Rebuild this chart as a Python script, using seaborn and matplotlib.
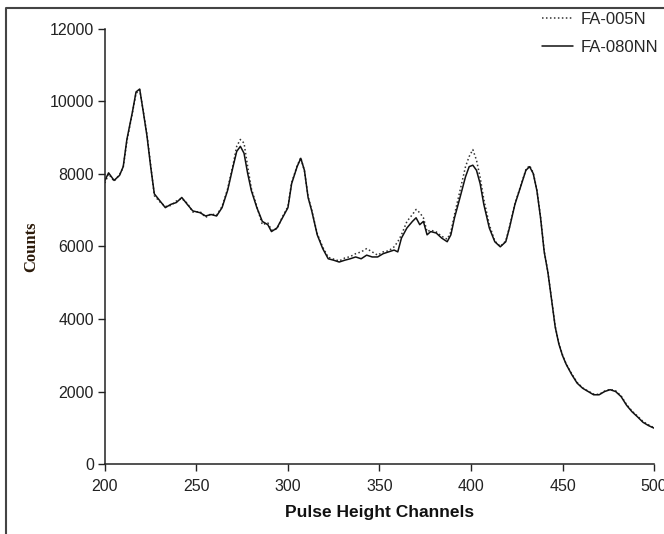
import matplotlib
matplotlib.use("Agg")
import matplotlib.pyplot as plt
import matplotlib.lines as mlines
import pandas as pd
import seaborn as sns

# Pulse height spectra
channels = [200, 202, 205, 208, 210, 212, 215, 217, 219, 221, 223, 225, 227, 230,
            233, 236, 239, 242, 245, 248, 252, 255, 258, 261, 264, 267, 270, 272,
            274, 276, 278, 280, 283, 286, 289, 291, 294, 297, 300, 302, 305, 307,
            309, 311, 313, 316, 319, 322, 325, 328, 331, 334, 337, 340, 343, 346,
            349, 352, 355, 358, 360, 362, 365, 368, 370, 372, 374, 376, 378, 381,
            384, 387, 389, 391, 394, 397, 399, 401, 403, 405, 407, 410, 413, 416,
            419, 421, 424, 427, 430, 432, 434, 436, 438, 440, 442, 444, 446, 448,
            450, 452, 455, 458, 461, 464, 467, 470, 473, 476, 479, 482, 485, 488,
            491, 494, 497, 500]

fa_080nn = [7820, 8030, 7820, 7960, 8200, 8950, 9700, 10260, 10340, 9700, 9040, 8200, 7450, 7260,
            7070, 7160, 7210, 7350, 7160, 6980, 6930, 6840, 6880, 6840, 7070, 7540, 8200, 8620,
            8760, 8570, 8010, 7540, 7070, 6690, 6600, 6410, 6510, 6790, 7070, 7730, 8200, 8430,
            8100, 7350, 6980, 6320, 5940, 5660, 5620, 5570, 5620, 5660, 5710, 5660, 5760, 5710,
            5710, 5800, 5850, 5900, 5850, 6230, 6510, 6690, 6790, 6600, 6690, 6320, 6410, 6370,
            6230, 6130, 6320, 6790, 7350, 7920, 8200, 8240, 8100, 7730, 7160, 6510, 6130, 5990,
            6130, 6510, 7160, 7630, 8100, 8200, 8010, 7540, 6790, 5850, 5290, 4540, 3780, 3310,
            2990, 2750, 2470, 2230, 2090, 2000, 1910, 1910, 2000, 2050, 2000, 1860, 1620, 1440,
            1300, 1150, 1060, 990]

fa_005n = [7750, 8000, 7800, 7980, 8180, 8900, 9680, 10220, 10320, 9720, 9080, 8250, 7400, 7230,
           7100, 7130, 7250, 7320, 7190, 6950, 6960, 6800, 6900, 6860, 7100, 7580, 8250, 8760,
           8950, 8850, 8200, 7600, 7100, 6600, 6650, 6450, 6480, 6820, 7100, 7760, 8220, 8450,
           8080, 7380, 7000, 6350, 5980, 5700, 5650, 5600, 5680, 5720, 5800, 5850, 5940, 5850,
           5760, 5850, 5880, 5990, 6130, 6320, 6690, 6880, 7020, 6930, 6790, 6410, 6450, 6400,
           6280, 6200, 6400, 6880, 7540, 8200, 8480, 8670, 8380, 7900, 7300, 6600, 6150, 6000,
           6150, 6530, 7180, 7650, 8120, 8230, 8030, 7560, 6820, 5870, 5300, 4560, 3800, 3330,
           3010, 2760, 2490, 2250, 2100, 2010, 1930, 1920, 2010, 2060, 2020, 1880, 1640, 1460,
           1320, 1170, 1080, 1000]

series_names = ["FA-005N", "FA-080NN"]

df = pd.DataFrame({
    "channel": channels * 2,
    "counts": fa_005n + fa_080nn,
    "sample": [series_names[0]] * len(channels) + [series_names[1]] * len(channels),
})

sns.set_style("ticks")
plt.rcParams["font.family"] = ["Liberation Sans", "DejaVu Sans"]

fig, ax = plt.subplots(figsize=(6.64, 5.34), dpi=100)
fig.subplots_adjust(left=0.158, right=0.985, bottom=0.131, top=0.946)

sns.lineplot(data=df, x="channel", y="counts", hue="sample", style="sample",
             palette={"FA-005N": "#333333", "FA-080NN": "#111111"},
             dashes={"FA-005N": (1, 1.6), "FA-080NN": ""},
             linewidth=1.1, legend=False, ax=ax)

ax.set_xlim(200, 500)
ax.set_ylim(0, 12000)
ax.set_xticks(range(200, 501, 50))
ax.set_yticks(range(0, 12001, 2000))
ax.tick_params(axis="both", labelsize=11.5, length=5, width=1, color="#222222",
               labelcolor="#222222", direction="out")
ax.tick_params(axis="y", pad=3)
ax.tick_params(axis="x", pad=6)
for side in ["left", "bottom"]:
    ax.spines[side].set_color("#222222")
    ax.spines[side].set_linewidth(1.1)
sns.despine(ax=ax)

ax.set_xlabel("Pulse Height Channels", fontsize=12.5, fontweight="bold",
              color="#111111", labelpad=8)
ax.set_ylabel("Counts", fontsize=12, fontweight="bold", color="#2b1a0a",
              family=["Liberation Serif", "DejaVu Serif"])
ax.yaxis.set_label_coords(-0.12, 0.5)

handles = [mlines.Line2D([], [], color="#333333", linestyle=(0, (1, 1.6)), linewidth=1.1),
           mlines.Line2D([], [], color="#111111", linewidth=1.1)]
fig.legend(handles, series_names, loc="upper left", bbox_to_anchor=(0.816, 0.977),
           frameon=False, fontsize=12, handlelength=1.9, handletextpad=0.4,
           labelspacing=0.75, borderpad=0, borderaxespad=0)

# outer frame of the cropped figure (top and left edges)
fig.add_artist(mlines.Line2D([6 / 664, 6 / 664, 1.0], [0.0, 1 - 8 / 534, 1 - 8 / 534],
                             transform=fig.transFigure, color="#444444", linewidth=1.5))

fig.savefig("out.png", dpi=100)
